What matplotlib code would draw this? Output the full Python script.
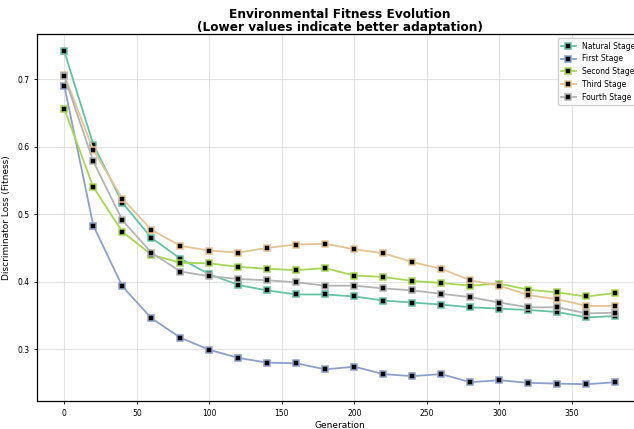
import matplotlib.pyplot as plt

# Datos
generaciones = list(range(0, 381, 20))
natural = [0.741, 0.603, 0.517, 0.465, 0.434, 0.411, 0.395, 0.387, 0.381, 0.381,
           0.378, 0.372, 0.369, 0.366, 0.362, 0.360, 0.358, 0.355, 0.347, 0.349]
first = [0.690, 0.483, 0.393, 0.346, 0.317, 0.299, 0.287, 0.280, 0.279, 0.270,
         0.274, 0.263, 0.260, 0.263, 0.251, 0.254, 0.250, 0.249, 0.248, 0.251]
second = [0.656, 0.540, 0.474, 0.440, 0.428, 0.427, 0.422, 0.419, 0.417, 0.420,
          0.409, 0.407, 0.401, 0.398, 0.394, 0.397, 0.388, 0.384, 0.378, 0.383]
third = [0.706, 0.595, 0.523, 0.477, 0.453, 0.446, 0.443, 0.450, 0.455, 0.456,
         0.448, 0.442, 0.429, 0.419, 0.402, 0.394, 0.380, 0.374, 0.364, 0.364]
fourth = [0.704, 0.578, 0.491, 0.443, 0.415, 0.408, 0.404, 0.402, 0.399, 0.394,
          0.394, 0.390, 0.387, 0.382, 0.377, 0.369, 0.362, 0.362, 0.353, 0.354]

series = [natural, first, second, third, fourth]
etiquetas = ['Natural Stage', 'First Stage', 'Second Stage', 'Third Stage', 'Fourth Stage']
colores = ['#66c2a5', '#8da0cb', '#a6d854', '#e5c494', '#b3b3b3']

fig = plt.figure(figsize=(6.34, 4.29), dpi=100)
ax = fig.add_axes([0.058, 0.065, 0.956, 0.856])

for valores, etiqueta, color in zip(series, etiquetas, colores):
    ax.plot(generaciones, valores, color=color, linewidth=1.3, marker='s',
            markersize=4, markerfacecolor='black', markeredgecolor=color,
            markeredgewidth=1.1, label=etiqueta)

ax.set_xlim(-19, 399)
ax.set_ylim(0.223, 0.767)
ax.set_xticks([0, 50, 100, 150, 200, 250, 300, 350])
ax.set_yticks([0.3, 0.4, 0.5, 0.6, 0.7])
ax.tick_params(labelsize=5.5, length=2, width=0.6)
ax.grid(True, color='#dddddd', linewidth=0.8, alpha=0.8)
for s in ax.spines.values():
    s.set_linewidth(0.9)

ax.set_xlabel('Generation', fontsize=6.5, labelpad=2)
ax.set_ylabel('Discriminator Loss (Fitness)', fontsize=6.5, labelpad=4)
ax.set_title('Environmental Fitness Evolution\n(Lower values indicate better adaptation)',
             fontsize=8.7, fontweight='bold', pad=2, linespacing=1.0)
ax.legend(loc='upper right', fontsize=5.5, frameon=True, edgecolor='#cccccc',
          framealpha=0.9, borderaxespad=0.6, handlelength=2.0)

fig.savefig('out.png', dpi=100)
